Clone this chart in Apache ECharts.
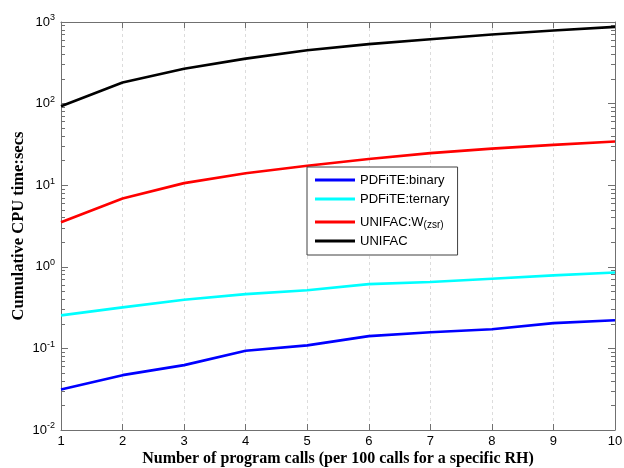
<!DOCTYPE html>
<html>
<head>
<meta charset="utf-8">
<script src="https://cdn.jsdelivr.net/npm/echarts@6/dist/echarts.min.js"></script>
<style>
  html, body { margin: 0; padding: 0; background: #fff; }
  #chart { width: 624px; height: 468px; }
</style>
</head>
<body>
<div id="chart"></div>
<script>
// program calls (x 100)
const calls = [1, 2, 3, 4, 5, 6, 7, 8, 9, 10];

// cumulative CPU time, seconds
const pdfiteBinary = [0.0314, 0.047, 0.0624, 0.0935, 0.109, 0.1415, 0.158, 0.172, 0.204, 0.221];
const pdfiteTernary = [0.254, 0.318, 0.394, 0.462, 0.515, 0.613, 0.65, 0.714, 0.785, 0.853];
const unifacZsr = [3.52, 6.86, 10.6, 14.0, 17.3, 20.9, 24.7, 28.1, 31.2, 34.3];
const unifac = [92.7, 181, 268, 356, 451, 535, 615, 703, 787, 871];

// log axis minor tick positions
const minorTicks = [];
[0.01, 0.1, 1, 10, 100].forEach(d => {
  for (let k = 2; k <= 9; k++) minorTicks.push(+(d * k).toPrecision(3));
});

const frameColor = '#707070';
const chart = echarts.init(document.getElementById('chart'));

const pair = (arr) => calls.map((c, i) => [c, arr[i]]);

const mkLine = (name, color, arr) => ({
  name: name,
  type: 'line',
  data: pair(arr),
  showSymbol: false,
  symbol: 'none',
  lineStyle: { color: color, width: 2.6 },
  itemStyle: { color: color },
  animation: false
});

const yBase = {
  type: 'log',
  logBase: 10,
  min: 0.01,
  max: 1000,
  splitLine: { show: false },
  axisLine: { show: true, lineStyle: { color: frameColor, width: 1 } }
};

const option = {
  backgroundColor: '#fff',
  animation: false,
  grid: { left: 61, right: 9, top: 22, bottom: 38, outerBoundsMode: 'none', containLabel: false },
  legend: {
    orient: 'vertical',
    left: 307,
    top: 167,
    padding: [5, 8, 6, 8],
    itemGap: 3,
    itemWidth: 40,
    itemHeight: 3,
    icon: 'rect',
    borderColor: '#404040',
    borderWidth: 1,
    backgroundColor: '#fff',
    data: ['PDFiTE:binary', 'PDFiTE:ternary', 'UNIFAC:W(zsr)', 'UNIFAC'],
    formatter: function (name) {
      if (name === 'UNIFAC:W(zsr)') return 'UNIFAC:W{sub|(zsr)}';
      return name;
    },
    textStyle: {
      fontFamily: 'Liberation Sans, Arial, sans-serif',
      fontSize: 13,
      color: '#000',
      lineHeight: 16,
      rich: {
        sub: {
          fontFamily: 'Liberation Sans, Arial, sans-serif',
          fontSize: 10,
          verticalAlign: 'bottom',
          padding: [10, 0, 0, 0],
          lineHeight: 12
        }
      }
    }
  },
  xAxis: [
    {
      type: 'value',
      min: 1,
      max: 10,
      interval: 1,
      name: 'Number of program calls (per 100 calls for a specific RH)',
      nameLocation: 'middle',
      nameMoveOverlap: false,
      nameGap: 21,
      nameTextStyle: {
        fontFamily: 'Liberation Serif, Times New Roman, serif',
        fontWeight: 'bold',
        fontSize: 16,
        color: '#000',
        verticalAlign: 'top'
      },
      axisLine: { show: true, lineStyle: { color: frameColor, width: 1 } },
      axisTick: { inside: true, length: 6, lineStyle: { color: frameColor } },
      axisLabel: {
        margin: 5,
        fontFamily: 'Liberation Sans, Arial, sans-serif',
        fontSize: 13,
        color: '#000'
      },
      splitLine: { show: true, lineStyle: { color: '#dcdcdc', type: [3, 3], width: 1 } }
    },
    {
      type: 'value',
      position: 'top',
      min: 1,
      max: 10,
      interval: 1,
      axisLine: { show: true, lineStyle: { color: frameColor, width: 1 } },
      axisTick: { inside: true, length: 6, lineStyle: { color: frameColor } },
      axisLabel: { show: false },
      splitLine: { show: false }
    }
  ],
  yAxis: [
    Object.assign({}, yBase, {
      position: 'left',
      name: 'Cumulative CPU time:secs',
      nameLocation: 'middle',
      nameMoveOverlap: false,
      nameGap: 34,
      nameTextStyle: {
        fontFamily: 'Liberation Serif, Times New Roman, serif',
        fontWeight: 'bold',
        fontSize: 16.5,
        color: '#000',
        verticalAlign: 'bottom'
      },
      axisTick: { inside: true, length: 7, lineStyle: { color: frameColor } },
      axisLabel: {
        margin: 6,
        fontFamily: 'Liberation Sans, Arial, sans-serif',
        fontSize: 13,
        color: '#000',
        formatter: function (v) {
          const e = Math.round(Math.log10(v));
          return '10{sup|' + e + '}';
        },
        rich: {
          sup: {
            fontFamily: 'Liberation Sans, Arial, sans-serif',
            fontSize: 9,
            verticalAlign: 'top',
            padding: [0, 0, 8, 0],
            color: '#000'
          }
        }
      }
    }),
    Object.assign({}, yBase, {
      position: 'left',
      axisLine: { show: false },
      axisTick: { show: true, inside: true, length: 4, customValues: minorTicks, lineStyle: { color: frameColor } },
      axisLabel: { show: false }
    }),
    Object.assign({}, yBase, {
      position: 'right',
      axisTick: { inside: true, length: 7, lineStyle: { color: frameColor } },
      axisLabel: { show: false }
    }),
    Object.assign({}, yBase, {
      position: 'right',
      axisLine: { show: false },
      axisTick: { show: true, inside: true, length: 4, customValues: minorTicks, lineStyle: { color: frameColor } },
      axisLabel: { show: false }
    })
  ],
  series: [
    mkLine('PDFiTE:binary', '#0000ff', pdfiteBinary),
    mkLine('PDFiTE:ternary', '#00ffff', pdfiteTernary),
    mkLine('UNIFAC:W(zsr)', '#ff0000', unifacZsr),
    mkLine('UNIFAC', '#000000', unifac)
  ]
};

chart.setOption(option);
</script>
</body>
</html>
